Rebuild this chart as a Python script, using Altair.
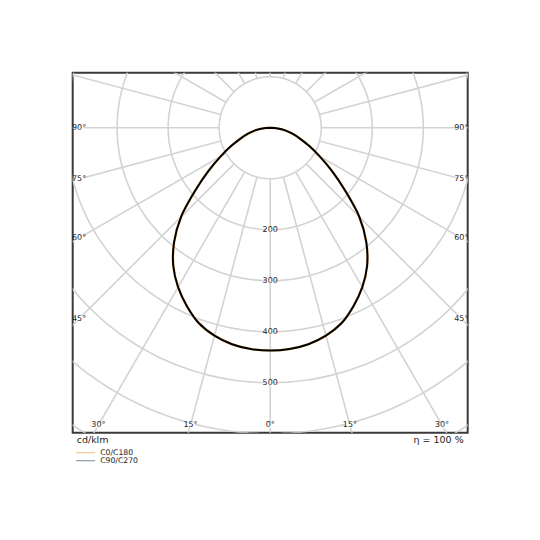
import altair as alt
import pandas as pd
import numpy as np

# ---- data (cd/klm) ----
gamma = [0, 5, 10, 15, 20, 25, 30, 35, 40, 45, 50, 55, 60, 65, 70, 75, 80, 85, 90]
c0_c180 = [437, 435.5, 431, 422, 408, 386, 361, 331, 293, 247, 192, 148, 112, 84, 62, 45, 30, 15, 0]
c90_c270 = [437, 435.5, 431, 422, 408, 386, 361, 331, 293, 247, 192, 148, 112, 84, 62, 45, 30, 15, 0]
series_names = ["C0/C180", "C90/C270"]
series_colors = ["#f6c88f", "#8f9ba3"]

rings = [100, 200, 300, 400, 500, 600, 700]
ring_labels = [200, 300, 400, 500]
spokes = list(range(0, 360, 15))
side_angle_labels = [45, 60, 75, 90]
bottom_angle_labels = [0, 15, 30]

X_EXT = 387.0      # half width of the view in cd/klm
Y_TOP = 108.0      # view extent above centre
Y_BOTTOM = 598.0   # view extent below centre

W, H = 395, 360
GRID = "#d3d3d3"
TXT = "#222222"
FONT = "DejaVu Sans"

xs = alt.Scale(domain=[-X_EXT, X_EXT], nice=False, zero=False)
ys = alt.Scale(domain=[-Y_BOTTOM, Y_TOP], nice=False, zero=False)

# rings
rows = []
for r in rings:
    for i, a in enumerate(np.arange(0, 361, 2)):
        t = np.radians(a)
        rows.append({"ring": r, "i": i, "x": r * np.sin(t), "y": -r * np.cos(t)})
ring_df = pd.DataFrame(rows)

# spokes
rows = []
for s in spokes:
    t = np.radians(s)
    for i, r in enumerate([rings[0], 1200]):
        rows.append({"spoke": s, "i": i, "x": r * np.sin(t), "y": -r * np.cos(t)})
spoke_df = pd.DataFrame(rows)

# curves
rows = []
for name, vals in zip(series_names, [c0_c180, c90_c270]):
    k = 0
    for g, v in zip(gamma[::-1], vals[::-1]):
        t = np.radians(g)
        rows.append({"series": name, "i": k, "x": -v * np.sin(t), "y": -v * np.cos(t)}); k += 1
    for g, v in zip(gamma[1:], vals[1:]):
        t = np.radians(g)
        rows.append({"series": name, "i": k, "x": v * np.sin(t), "y": -v * np.cos(t)}); k += 1
curve_df = pd.DataFrame(rows)

# labels
rows = []
for r in ring_labels:
    rows.append({"x": 0.0, "y": -float(r), "label": str(r)})
side_x = X_EXT - 12.5
for a in side_angle_labels:
    t = np.radians(a)
    yv = -side_x / np.tan(t) if a != 90 else 0.0
    for sgn in (-1, 1):
        rows.append({"x": sgn * side_x, "y": yv, "label": f"{a}°"})
bot_y = Y_BOTTOM - 15.0
for a in bottom_angle_labels:
    t = np.radians(a)
    for sgn in ((1,) if a == 0 else (-1, 1)):
        rows.append({"x": sgn * bot_y * np.tan(t), "y": -bot_y, "label": f"{a}°"})
label_df = pd.DataFrame(rows)

enc_xy = dict(
    x=alt.X("x:Q", scale=xs, axis=None),
    y=alt.Y("y:Q", scale=ys, axis=None),
)

ring_layer = alt.Chart(ring_df).mark_line(clip=True, color=GRID, strokeWidth=1.6).encode(
    order="i:O", detail="ring:N", **enc_xy)
spoke_layer = alt.Chart(spoke_df).mark_line(clip=True, color=GRID, strokeWidth=1.6).encode(
    order="i:O", detail="spoke:N", **enc_xy)

bg_layer = alt.Chart(label_df).mark_point(
    shape="M-0.85,-0.5L0.85,-0.5L0.85,0.5L-0.85,0.5Z", filled=True, color="white",
    opacity=1, size=110, clip=True).encode(**enc_xy)

c0 = alt.Chart(curve_df[curve_df.series == "C0/C180"]).mark_line(
    color=series_colors[0], strokeWidth=2.6, clip=True, interpolate="catmull-rom"
).encode(order="i:Q", **enc_xy)
c90 = alt.Chart(curve_df[curve_df.series == "C90/C270"]).mark_line(
    color="#000000", strokeWidth=2.0, clip=True, interpolate="catmull-rom"
).encode(order="i:Q", **enc_xy)

label_layer = alt.Chart(label_df).mark_text(
    font=FONT, fontSize=8, color=TXT, align="center", baseline="middle", clip=True
).encode(text="label:N", **enc_xy)

unit_df = pd.DataFrame({"t": ["cd/klm"]})
unit_layer = alt.Chart(unit_df).mark_text(
    font=FONT, fontSize=9.5, color=TXT, align="left", baseline="middle"
).encode(text="t:N", x=alt.value(4), y=alt.value(367))
eta_df = pd.DataFrame({"t": ["η = 100 %"]})
eta_layer = alt.Chart(eta_df).mark_text(
    font=FONT, fontSize=9.5, color=TXT, align="right", baseline="middle"
).encode(text="t:N", x=alt.value(391), y=alt.value(367))

leg_layers = []
for k, (name, col) in enumerate(zip(series_names, series_colors)):
    ldf = pd.DataFrame({"t": [name]})
    yy = 380 + k * 8
    leg_layers.append(alt.Chart(ldf).mark_rule(color=col, strokeWidth=1.2).encode(
        x=alt.value(3.5), x2=alt.value(22.5), y=alt.value(yy)))
    leg_layers.append(alt.Chart(ldf).mark_text(
        font=FONT, fontSize=7.7, color=TXT, align="left", baseline="middle").encode(
        text="t:N", x=alt.value(27.5), y=alt.value(yy)))

chart = alt.layer(
    ring_layer, spoke_layer, bg_layer, c0, c90, label_layer, unit_layer, eta_layer, *leg_layers
).properties(
    width=W, height=H,
    autosize=alt.AutoSizeParams(type="none"),
    padding={"left": 64.7, "top": 64.7, "right": 60, "bottom": 100},
).configure_view(stroke="#3a3a3a", strokeWidth=2)

chart.save("out.html", embed_options={"renderer": "svg", "actions": False})
